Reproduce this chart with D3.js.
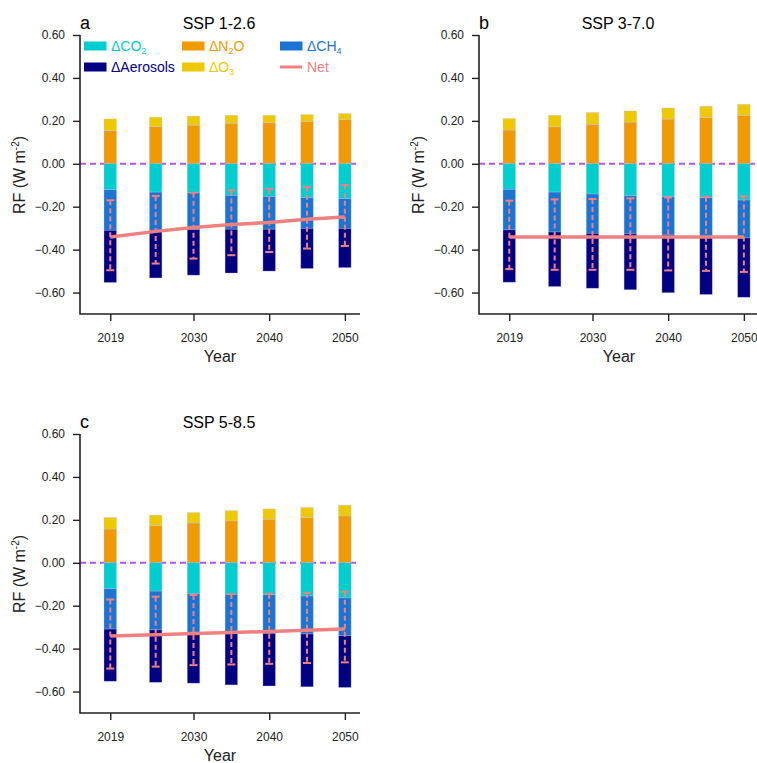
<!DOCTYPE html>
<html>
<head>
<meta charset="utf-8">
<script src="https://cdn.jsdelivr.net/npm/d3@7"></script>
<style>
  body { margin: 0; background: #fff; }
  svg { font-family: "Liberation Sans", Arial, sans-serif; }
</style>
</head>
<body>
<div id="chart"></div>
<script>
// years shown as bars
const years = [2019, 2025, 2030, 2035, 2040, 2045, 2050];
const yTicks = [0.6, 0.4, 0.2, 0, -0.2, -0.4, -0.6];
const xTicks = [2019, 2030, 2040, 2050];

// SSP 1-2.6
const a_N2O  = [0.155, 0.174, 0.180, 0.189, 0.192, 0.197, 0.205];
const a_O3   = [0.054, 0.043, 0.042, 0.037, 0.034, 0.032, 0.029];
const a_CO2  = [-0.121, -0.132, -0.135, -0.147, -0.152, -0.158, -0.163];
const a_CH4  = [-0.189, -0.178, -0.172, -0.158, -0.153, -0.143, -0.138];
const a_Aero = [-0.243, -0.222, -0.212, -0.204, -0.195, -0.187, -0.183];
const a_Net  = [-0.341, -0.315, -0.297, -0.283, -0.274, -0.259, -0.248];
const a_Lo   = [-0.496, -0.465, -0.442, -0.426, -0.411, -0.395, -0.383];
const a_Hi   = [-0.170, -0.150, -0.135, -0.124, -0.116, -0.107, -0.098];

// SSP 3-7.0
const b_N2O  = [0.157, 0.172, 0.184, 0.194, 0.208, 0.215, 0.226];
const b_O3   = [0.054, 0.054, 0.055, 0.052, 0.052, 0.053, 0.051];
const b_CO2  = [-0.119, -0.132, -0.141, -0.149, -0.153, -0.158, -0.169];
const b_CH4  = [-0.189, -0.186, -0.183, -0.178, -0.179, -0.181, -0.177];
const b_Aero = [-0.244, -0.254, -0.256, -0.260, -0.269, -0.270, -0.276];
const b_Net  = [-0.341, -0.341, -0.341, -0.341, -0.341, -0.341, -0.341];
const b_Lo   = [-0.491, -0.494, -0.494, -0.494, -0.497, -0.499, -0.504];
const b_Hi   = [-0.172, -0.166, -0.164, -0.161, -0.157, -0.154, -0.152];

// SSP 5-8.5
const c_N2O  = [0.157, 0.174, 0.185, 0.195, 0.203, 0.211, 0.218];
const c_O3   = [0.054, 0.048, 0.049, 0.048, 0.048, 0.047, 0.050];
const c_CO2  = [-0.121, -0.132, -0.143, -0.147, -0.149, -0.155, -0.164];
const c_CH4  = [-0.188, -0.181, -0.189, -0.183, -0.180, -0.177, -0.176];
const c_Aero = [-0.243, -0.244, -0.229, -0.239, -0.245, -0.246, -0.241];
const c_Net  = [-0.341, -0.335, -0.330, -0.325, -0.320, -0.315, -0.309];
const c_Lo   = [-0.493, -0.484, -0.477, -0.474, -0.471, -0.467, -0.464];
const c_Hi   = [-0.171, -0.158, -0.150, -0.146, -0.144, -0.140, -0.135];

const colors = {
  CO2: "#00cdcd", N2O: "#ee9a00", CH4: "#1c74d2",
  Aero: "#000080", O3: "#eec900", Net: "#f08080", zero: "#b452f2"
};

const panels = [
  {lab: "a", title: "SSP 1-2.6", dx: 0, dy: 0, legend: true,
   N2O: a_N2O, O3: a_O3, CO2: a_CO2, CH4: a_CH4, Aero: a_Aero, Net: a_Net, Lo: a_Lo, Hi: a_Hi},
  {lab: "b", title: "SSP 3-7.0", dx: 399, dy: 0, legend: false,
   N2O: b_N2O, O3: b_O3, CO2: b_CO2, CH4: b_CH4, Aero: b_Aero, Net: b_Net, Lo: b_Lo, Hi: b_Hi},
  {lab: "c", title: "SSP 5-8.5", dx: 0, dy: 399, legend: false,
   N2O: c_N2O, O3: c_O3, CO2: c_CO2, CH4: c_CH4, Aero: c_Aero, Net: c_Net, Lo: c_Lo, Hi: c_Hi}
];

const width = 757, height = 763;
const svg = d3.select("#chart").append("svg")
  .attr("width", width).attr("height", height);

const x = d3.scaleLinear().domain([2015, 2052]).range([80, 360]);
const y = d3.scaleLinear().domain([-0.7, 0.6]).range([314, 35]);
const barW = 12.5;

for (const p of panels) {
  const g = svg.append("g").attr("transform", "translate(" + p.dx + "," + p.dy + ")");

  // zero line (behind the bars)
  g.append("line")
    .attr("x1", x(2015)).attr("x2", x(2052))
    .attr("y1", y(0)).attr("y2", y(0))
    .attr("stroke", colors.zero).attr("stroke-width", 2)
    .attr("stroke-dasharray", "6,4");

  // stacked segments: [start, end] for each component
  const segs = [];
  years.forEach((yr, i) => {
    segs.push({yr, y0: 0, y1: p.N2O[i], c: colors.N2O});
    segs.push({yr, y0: p.N2O[i], y1: p.N2O[i] + p.O3[i], c: colors.O3});
    segs.push({yr, y0: 0, y1: p.CO2[i], c: colors.CO2});
    segs.push({yr, y0: p.CO2[i], y1: p.CO2[i] + p.CH4[i], c: colors.CH4});
    segs.push({yr, y0: p.CO2[i] + p.CH4[i], y1: p.CO2[i] + p.CH4[i] + p.Aero[i], c: colors.Aero});
  });

  g.selectAll("rect.seg").data(segs).enter().append("rect")
    .attr("class", "seg")
    .attr("x", d => x(d.yr) - barW / 2)
    .attr("width", barW)
    .attr("y", d => y(Math.max(d.y0, d.y1)))
    .attr("height", d => Math.abs(y(d.y0) - y(d.y1)))
    .attr("fill", d => d.c)
    .attr("stroke", "rgba(190,190,255,0.45)").attr("stroke-width", 0.7);

  // error bars
  const eb = g.selectAll("g.eb").data(years.map((yr, i) => ({yr, lo: p.Lo[i], hi: p.Hi[i]})))
    .enter().append("g").attr("class", "eb");
  eb.append("line")
    .attr("x1", d => x(d.yr)).attr("x2", d => x(d.yr))
    .attr("y1", d => y(d.hi)).attr("y2", d => y(d.lo))
    .attr("stroke", colors.Net).attr("stroke-width", 2)
    .attr("stroke-dasharray", "5,3");
  eb.append("line")
    .attr("x1", d => x(d.yr) - 4).attr("x2", d => x(d.yr) + 4)
    .attr("y1", d => y(d.hi)).attr("y2", d => y(d.hi))
    .attr("stroke", colors.Net).attr("stroke-width", 2);
  eb.append("line")
    .attr("x1", d => x(d.yr) - 4).attr("x2", d => x(d.yr) + 4)
    .attr("y1", d => y(d.lo)).attr("y2", d => y(d.lo))
    .attr("stroke", colors.Net).attr("stroke-width", 2);

  // net line
  g.append("path")
    .datum(years.map((yr, i) => [yr, p.Net[i]]))
    .attr("d", d3.line().x(d => x(d[0])).y(d => y(d[1])))
    .attr("fill", "none")
    .attr("stroke", colors.Net).attr("stroke-width", 3.5);

  // axes
  const ya = g.append("g").attr("transform", "translate(80,0)")
    .call(d3.axisLeft(y).tickValues(yTicks).tickFormat(d3.format(".2f")).tickSize(7).tickPadding(8));
  ya.select(".domain").remove();
  ya.selectAll("line").attr("stroke", "#222").attr("stroke-width", 1.4);
  ya.selectAll("text").attr("font-size", 12).attr("fill", "#222")
    .attr("font-family", "Liberation Sans, Arial, sans-serif");

  const xa = g.append("g").attr("transform", "translate(0,314)")
    .call(d3.axisBottom(x).tickValues(xTicks).tickFormat(d3.format("d")).tickSize(7).tickPadding(12));
  xa.select(".domain").remove();
  xa.selectAll("line").attr("stroke", "#222").attr("stroke-width", 1.4);
  xa.selectAll("text").attr("font-size", 12).attr("fill", "#222")
    .attr("font-family", "Liberation Sans, Arial, sans-serif");

  // L-shaped frame
  g.append("path")
    .attr("d", "M" + x(2015) + "," + y(0.6) + "V" + y(-0.7) + "H" + x(2052))
    .attr("fill", "none").attr("stroke", "#222").attr("stroke-width", 1.6);

  // labels
  g.append("text").attr("x", 80).attr("y", 29).attr("font-size", 18).text(p.lab);
  g.append("text").attr("x", 219).attr("y", 29).attr("font-size", 16)
    .attr("text-anchor", "middle").text(p.title);
  g.append("text").attr("x", 220).attr("y", 362).attr("font-size", 16)
    .attr("text-anchor", "middle").attr("fill", "#222").text("Year");
  const yt = g.append("text")
    .attr("transform", "translate(25,175) rotate(-90)")
    .attr("font-size", 16).attr("text-anchor", "middle").attr("fill", "#222");
  yt.append("tspan").text("RF (W m");
  yt.append("tspan").attr("font-size", 10).attr("dy", -6).text("-2");
  yt.append("tspan").attr("dy", 6).text(")");

  if (p.legend) {
    const items = [
      {k: "CO2", parts: ["\u0394CO", "2"], x: 84, y: 46},
      {k: "N2O", parts: ["\u0394N", "2", "O"], x: 182, y: 46},
      {k: "CH4", parts: ["\u0394CH", "4"], x: 280, y: 46},
      {k: "Aero", parts: ["\u0394Aerosols"], x: 84, y: 67},
      {k: "O3", parts: ["\u0394O", "3"], x: 182, y: 67},
      {k: "Net", parts: ["Net"], x: 280, y: 67, line: true}
    ];
    const lg = g.append("g");
    for (const it of items) {
      if (it.line) {
        lg.append("line").attr("x1", it.x).attr("x2", it.x + 22)
          .attr("y1", it.y).attr("y2", it.y)
          .attr("stroke", colors[it.k]).attr("stroke-width", 3);
      } else {
        lg.append("rect").attr("x", it.x).attr("y", it.y - 4.5)
          .attr("width", 22.5).attr("height", 9).attr("fill", colors[it.k]);
      }
      const t = lg.append("text").attr("x", it.x + 27).attr("y", it.y + 5)
        .attr("font-size", 14).attr("fill", colors[it.k]);
      it.parts.forEach((s, j) => {
        const sub = j % 2 === 1;
        const ts = t.append("tspan").text(s);
        if (sub) ts.attr("font-size", 9).attr("dy", 3);
        else if (j > 0) ts.attr("dy", -3);
      });
    }
  }
}
</script>
</body>
</html>
